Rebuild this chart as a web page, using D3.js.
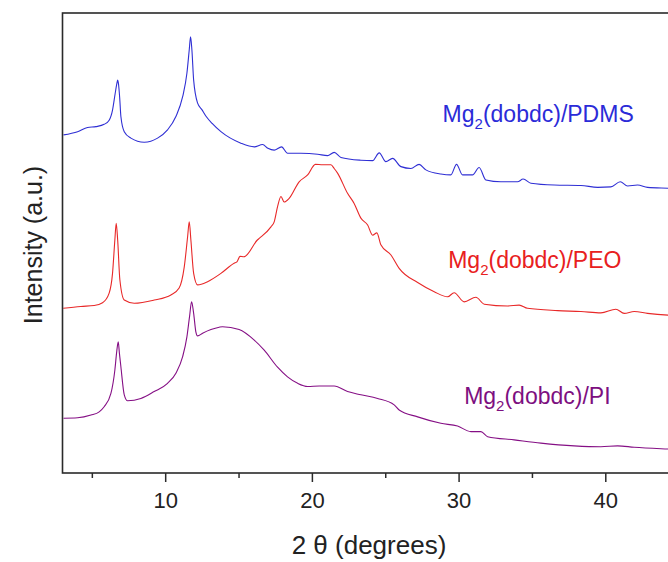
<!DOCTYPE html>
<html>
<head>
<meta charset="utf-8">
<script src="https://cdn.jsdelivr.net/npm/d3@7"></script>
<style>
  html, body { margin: 0; padding: 0; background: #fff; }
  svg { display: block; }
</style>
</head>
<body>
<svg id="chart" width="668" height="562"></svg>
<script>
// XRD patterns of Mg2(dobdc) composites, offset vertically (arbitrary units)
const pdmsAngle = [3.07, 4.03, 4.71, 5.28, 5.84, 6.18, 6.41, 6.59, 6.70, 6.76, 6.82, 6.90, 6.98, 7.21, 7.66, 8.57, 9.48, 10.16, 10.73, 11.19, 11.48, 11.64, 11.73, 11.82, 11.94, 12.21, 12.50, 12.77, 13.20, 13.80, 15.16, 16.07, 16.64, 17.00, 17.43, 17.93, 18.34, 19.25, 20.39, 21.07, 21.52, 21.98, 23.34, 24.14, 24.59, 25.04, 25.50, 26.07, 26.75, 27.31, 27.77, 28.79, 29.47, 29.86, 30.27, 30.95, 31.40, 31.86, 32.88, 34.02, 34.40, 34.93, 36.52, 38.34, 39.48, 40.38, 41.02, 41.52, 42.20, 42.88, 44.33, 45.00];
const pdmsIntensity = [73.5, 74.2, 75.1, 75.3, 75.8, 76.7, 78.9, 82.5, 84.6, 85.4, 84.5, 81.5, 77.5, 74.2, 72.8, 71.9, 72.8, 74.6, 77.5, 81.8, 86.9, 92.0, 94.8, 92.0, 85.4, 80.4, 79.0, 77.6, 76.0, 74.2, 71.7, 70.9, 71.4, 70.6, 70.2, 70.9, 69.5, 69.5, 69.3, 69.0, 69.7, 68.6, 68.0, 67.9, 69.6, 67.7, 68.4, 66.6, 66.2, 67.1, 65.9, 65.0, 64.8, 67.1, 64.8, 64.8, 66.4, 63.7, 63.3, 63.3, 63.9, 63.0, 62.6, 62.5, 62.1, 62.2, 63.3, 62.4, 62.6, 62.1, 61.9, 61.8];

const peoAngle = [3.05, 4.25, 5.16, 5.73, 6.18, 6.41, 6.57, 6.66, 6.76, 6.91, 7.21, 7.89, 9.25, 10.39, 10.95, 11.30, 11.53, 11.64, 11.75, 11.94, 12.21, 12.89, 13.80, 14.70, 14.89, 15.10, 15.36, 16.30, 16.41, 17.21, 17.43, 17.66, 17.89, 18.11, 18.45, 19.13, 19.71, 20.24, 20.73, 21.30, 21.52, 21.75, 22.43, 22.88, 23.34, 23.80, 24.14, 24.43, 24.70, 25.39, 25.95, 27.21, 28.34, 29.25, 29.70, 30.38, 31.18, 31.75, 33.34, 34.13, 34.70, 36.75, 38.34, 39.70, 40.72, 41.29, 41.97, 42.88, 44.33, 45.00];
const peoIntensity = [35.8, 36.2, 36.4, 37.0, 39.1, 43.4, 50.7, 54.3, 50.7, 42.0, 37.6, 36.9, 37.6, 38.7, 40.2, 44.8, 51.4, 54.6, 50.7, 43.4, 40.9, 41.6, 43.4, 45.6, 45.9, 47.1, 47.0, 50.7, 51.0, 53.5, 54.6, 57.9, 60.1, 58.9, 59.7, 63.3, 64.8, 67.1, 67.0, 67.0, 66.2, 65.2, 60.8, 58.6, 55.4, 53.9, 51.7, 52.2, 49.6, 47.4, 44.5, 41.4, 39.4, 38.3, 39.2, 37.2, 38.2, 36.7, 36.3, 36.5, 35.8, 35.3, 35.1, 34.8, 35.6, 34.7, 35.1, 34.7, 34.3, 34.2];

const piAngle = [3.07, 4.03, 4.94, 5.50, 5.84, 6.30, 6.57, 6.70, 6.80, 6.88, 6.98, 7.21, 7.44, 8.34, 9.25, 10.16, 10.73, 11.19, 11.48, 11.66, 11.80, 11.94, 12.09, 12.21, 12.55, 13.12, 13.68, 13.91, 15.04, 16.07, 16.75, 17.66, 18.34, 19.03, 19.71, 20.50, 21.52, 22.43, 23.34, 24.48, 25.61, 25.95, 27.21, 28.79, 29.93, 30.84, 31.52, 31.98, 33.79, 35.61, 37.88, 39.70, 40.84, 41.97, 44.33, 45.00];
const piIntensity = [11.9, 12.0, 12.6, 13.3, 14.4, 17.3, 22.4, 26.5, 28.5, 26.0, 23.1, 17.0, 15.7, 16.2, 17.7, 19.5, 21.7, 25.3, 29.6, 34.0, 37.2, 34.7, 30.7, 29.8, 30.4, 31.2, 31.7, 31.8, 31.2, 28.9, 26.7, 23.0, 20.9, 19.5, 18.8, 18.9, 18.9, 17.7, 17.0, 16.2, 14.8, 13.7, 12.2, 10.8, 10.2, 9.0, 9.0, 7.9, 7.2, 6.5, 5.9, 5.7, 5.9, 5.6, 5.2, 5.1];

const seriesNames = ["PDMS", "PEO", "PI"];
const seriesColors = ["#2f2fd4", "#e82828", "#850f85"];
const xTicksMajor = [10, 20, 30, 40];
const xTicksMinor = [5, 15, 25, 35, 45];

const series = [
  { name: seriesNames[0], color: seriesColors[0], pts: d3.zip(pdmsAngle, pdmsIntensity) },
  { name: seriesNames[1], color: seriesColors[1], pts: d3.zip(peoAngle, peoIntensity) },
  { name: seriesNames[2], color: seriesColors[2], pts: d3.zip(piAngle, piIntensity) }
];

const svg = d3.select("#chart");
const margin = { left: 62.5, top: 13, bottom: 473 };

const x = d3.scaleLinear().domain([3, 45]).range([margin.left, margin.left + 42 * 14.67]);
const y = d3.scaleLinear().domain([0, 100]).range([margin.bottom, margin.top]);

svg.append("rect").attr("width", 668).attr("height", 562).attr("fill", "#fff");

// data traces
const line = d3.line().x(d => x(d[0])).y(d => y(d[1])).curve(d3.curveMonotoneX);
svg.append("g").selectAll("path").data(series).join("path")
  .attr("d", d => line(d.pts))
  .attr("fill", "none")
  .attr("stroke", d => d.color)
  .attr("stroke-width", 1.1)
  .attr("stroke-linejoin", "round");

// frame
const axisColor = "#2a2a2a";
svg.append("rect")
  .attr("x", x(3)).attr("y", y(100))
  .attr("width", x(45) - x(3)).attr("height", y(0) - y(100))
  .attr("fill", "none").attr("stroke", axisColor).attr("stroke-width", 1.6);

// bottom axis: major ticks with labels, minor ticks without
const axisMajor = d3.axisBottom(x).tickValues(xTicksMajor).tickSize(9).tickSizeOuter(0).tickFormat(d3.format("d"));
const gx = svg.append("g").attr("transform", `translate(0,${y(0)})`).call(axisMajor);
gx.select(".domain").remove();
gx.selectAll(".tick line").attr("stroke", axisColor).attr("stroke-width", 1.5);
gx.selectAll(".tick text")
  .attr("font-family", "Liberation Sans, Arial, sans-serif")
  .attr("font-size", 22).attr("fill", "#222").attr("dy", "1.05em");

const axisMinor = d3.axisBottom(x).tickValues(xTicksMinor).tickSize(5).tickSizeOuter(0).tickFormat("");
const gm = svg.append("g").attr("transform", `translate(0,${y(0)})`).call(axisMinor);
gm.select(".domain").remove();
gm.selectAll(".tick line").attr("stroke", axisColor).attr("stroke-width", 1.5);

// axis titles
svg.append("text")
  .attr("x", 369).attr("y", 554)
  .attr("text-anchor", "middle")
  .attr("font-family", "Liberation Sans, Arial, sans-serif")
  .attr("font-size", 26).attr("fill", "#222")
  .text("2 θ (degrees)");

svg.append("text")
  .attr("transform", "translate(42,245) rotate(-90)")
  .attr("text-anchor", "middle")
  .attr("font-family", "Liberation Sans, Arial, sans-serif")
  .attr("font-size", 25).attr("fill", "#222")
  .text("Intensity (a.u.)");

// series labels, anchored in data units
const labelAnchors = [[28.91, 76.4], [29.29, 44.5], [30.38, 14.9]];
const labelColors = ["#2b2bd8", "#e82020", "#7d0f80"];
series.forEach((s, i) => {
  const t = svg.append("text")
    .attr("x", x(labelAnchors[i][0])).attr("y", y(labelAnchors[i][1]))
    .attr("font-family", "Liberation Sans, Arial, sans-serif")
    .attr("font-size", 23).attr("fill", labelColors[i]);
  t.append("tspan").text("Mg");
  t.append("tspan").attr("font-size", 15).attr("dy", 7).text("2");
  t.append("tspan").attr("dy", -7).text("(dobdc)/" + s.name);
});
</script>
</body>
</html>
